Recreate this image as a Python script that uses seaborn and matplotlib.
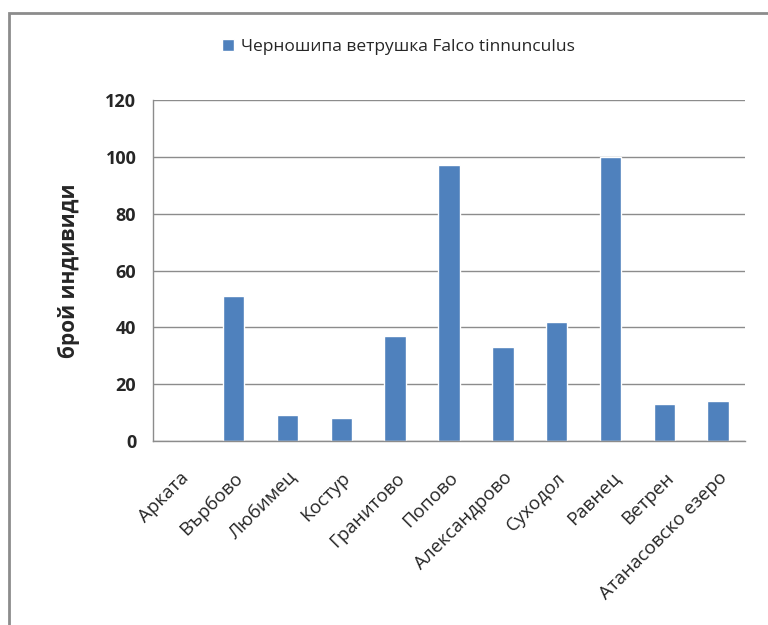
import matplotlib
matplotlib.use("Agg")
import matplotlib.pyplot as plt
import seaborn as sns
import pandas as pd
import numpy as np
from matplotlib.patches import Rectangle

categories = ["Арката", "Върбово", "Любимец", "Костур", "Гранитово", "Попово",
              "Александрово", "Суходол", "Равнец", "Ветрен", "Атанасовско езеро"]
values = [0, 51, 9, 8, 37, 97, 33, 42, 100, 13, 14]
series_name = "Черношипа ветрушка Falco tinnunculus"
yticks = [0, 20, 40, 60, 80, 100, 120]

sns.set_style("white")
plt.rcParams['font.family'] = ['Open Sans', 'DejaVu Sans']

df = pd.DataFrame({"cat": categories, "val": values, "series": series_name})

fig = plt.figure(figsize=(7.68, 6.25), dpi=100)
ax = fig.add_axes([153/768, 1-441/625, (745-153)/768, (441-100)/625])

sns.barplot(data=df, x="cat", y="val", hue="series", palette=["#4F81BD"],
            width=0.4, ax=ax, saturation=1, legend=True)

ax.set_ylim(0, 120)
ax.set_xlim(-0.5, len(categories) - 0.5)
ax.set_yticks(yticks)
ax.set_yticklabels([str(t) for t in yticks], fontsize=13, fontweight='bold')
ax.yaxis.grid(True, color="#8c8c8c", linewidth=1)
ax.set_axisbelow(True)

ax.set_xticks(range(len(categories)))
ax.set_xticklabels(categories, rotation=45, ha='right', rotation_mode='anchor', fontsize=13.5)
ax.tick_params(axis='x', which='major', length=0, pad=20)
ax.set_xticks(np.arange(-0.5, len(categories), 1), minor=True)
ax.tick_params(axis='x', which='minor', length=7, color="#8c8c8c", width=1, direction='out')
ax.tick_params(axis='y', length=6, color="#8c8c8c", width=1, direction='out', pad=6)

for s in ["top", "right"]:
    ax.spines[s].set_visible(False)
for s in ["left", "bottom"]:
    ax.spines[s].set_color("#8c8c8c")
    ax.spines[s].set_linewidth(1)

ax.set_xlabel("")
ax.set_ylabel("брой индивиди", fontsize=15, fontweight='bold', labelpad=18)

leg = ax.legend(loc='center', bbox_to_anchor=(398/768, 1-47/625), bbox_transform=fig.transFigure,
                frameon=False, fontsize=12.5, handlelength=0.7, handleheight=0.7, handletextpad=0.4)

fig.patches.append(Rectangle((9/768, -0.1), 2, 1.1 - 13/625, transform=fig.transFigure,
                             fill=False, edgecolor="#8c8c8c", linewidth=2, clip_on=False))

fig.savefig("out.png", dpi=100)
